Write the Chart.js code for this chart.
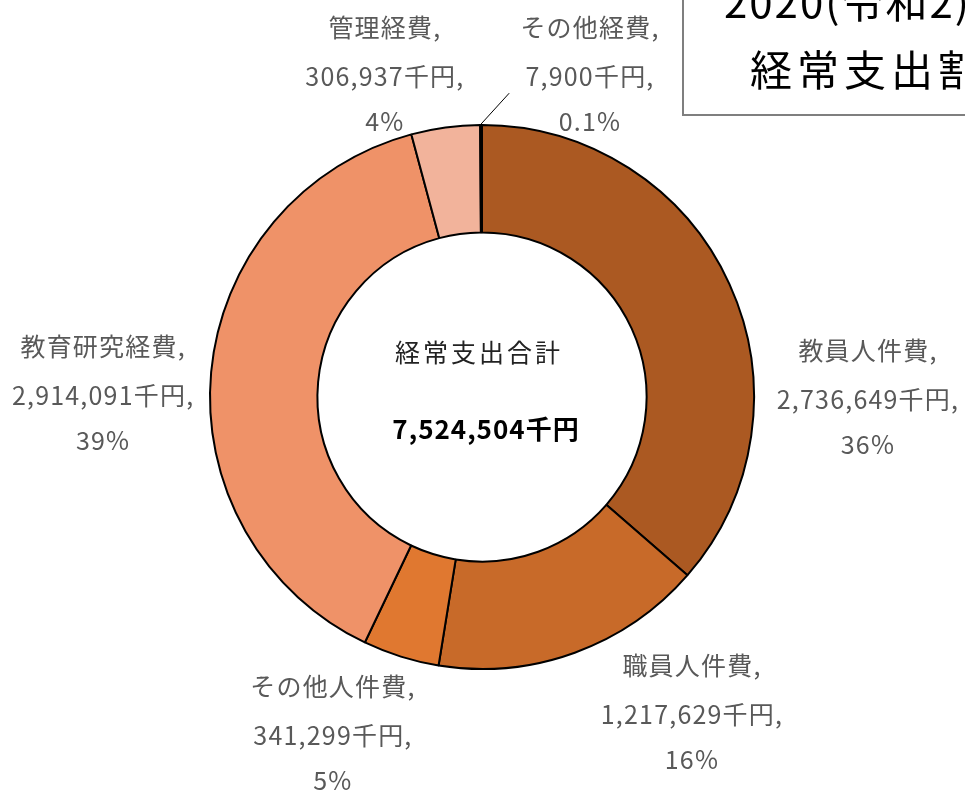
<!DOCTYPE html>
<html><head><meta charset="utf-8">
<script src="https://cdn.jsdelivr.net/npm/chart.js@4/dist/chart.umd.min.js"></script>
<style>html,body{margin:0;padding:0;background:#fff;}#wrap{width:965px;height:791px;position:relative;}</style>
</head><body><div id="wrap"><canvas id="c" width="965" height="791"></canvas></div>
<script>
const categories = ["教員人件費","職員人件費","その他人件費","教育研究経費","管理経費","その他経費"];
const values = [2736649,1217629,341299,2914091,306937,7900];
const percentLabels = ["36%","16%","5%","39%","4%","0.1%"];
const colors = ["#AB5922","#C86A29","#E07830","#EF9268","#F2B39B","#F6CDB9"];
const centerTitle = "経常支出合計";
const centerTotal = "7,524,504千円";
const titleLines = ["2020(令和2)年度","経常支出割合"];
// label block placement relative to chart centre, in units of outer radius
const labelOffsets = [[1.419,0.011],[0.772,1.169],[-0.548,1.243],[-1.393,-0.004],[-0.357,-1.18],[0.397,-1.18]];

function fmt(n){return n.toLocaleString('en-US');}

const labelPlugin = {
  id:'labels',
  afterDraw(chart){
    const ctx = chart.ctx;
    const meta = chart.getDatasetMeta(0);
    const arc0 = meta.data[0];
    const cx = arc0.x, cy = arc0.y, R = arc0.outerRadius;
    ctx.save();
    // leader line for smallest slice
    const small = meta.data[5];
    const mid = (small.startAngle+small.endAngle)/2;
    ctx.strokeStyle = '#000'; ctx.lineWidth = 1;
    ctx.beginPath();
    ctx.moveTo(cx + Math.cos(mid)*(R+1), cy + Math.sin(mid)*(R+1));
    ctx.lineTo(cx + R*0.1, cy - R*1.117);
    ctx.stroke();
    // data labels
    ctx.fillStyle = '#595959';
    ctx.font = '25px "Noto Sans CJK JP"';
    ctx.letterSpacing = '1.2px';
    ctx.textAlign = 'center'; ctx.textBaseline = 'middle';
    categories.forEach((c,i)=>{
      const x = cx + labelOffsets[i][0]*R, y = cy + labelOffsets[i][1]*R;
      const lines = [c+",", fmt(values[i])+"千円,", percentLabels[i]];
      ctx.fillText(lines[0], x, y-49);
      ctx.fillText(lines[1], x, y);
      ctx.fillText(lines[2], x, y+45);
    });
    // centre text
    ctx.fillStyle = '#222';
    ctx.font = '25px "Noto Sans CJK JP"';
    ctx.letterSpacing = '3px';
    ctx.fillText(centerTitle, cx-3, cy-45);
    ctx.fillStyle = '#000';
    ctx.font = 'bold 26px "Noto Sans CJK JP"';
    ctx.letterSpacing = '1px';
    ctx.fillText(centerTotal, cx+4, cy+32);
    // title box (partly outside canvas)
    ctx.letterSpacing = '0px';
    ctx.fillStyle = '#fff';
    ctx.fillRect(683, -20, 420, 135);
    ctx.strokeStyle = '#7f7f7f'; ctx.lineWidth = 2;
    ctx.strokeRect(683, -20, 420, 135);
    ctx.fillStyle = '#000';
    ctx.font = '42px "Noto Sans CJK JP"';
    ctx.textAlign = 'left';
    ctx.letterSpacing = '2px';
    ctx.fillText(titleLines[0], 724, 2);
    ctx.letterSpacing = '5px';
    ctx.fillText(titleLines[1], 750, 70);
    ctx.restore();
  }
};

new Chart(document.getElementById('c'), {
  type:'doughnut',
  data:{labels:categories, datasets:[{data:values, backgroundColor:colors, borderColor:'#000', borderWidth:2, borderAlign:'center'}]},
  options:{
    responsive:false, animation:false, cutout:'60.5%',
    layout:{padding:{left:209,right:210,top:124,bottom:121}},
    plugins:{legend:{display:false}, tooltip:{enabled:false}, title:{display:false}}
  },
  plugins:[labelPlugin]
});
</script></body></html>
